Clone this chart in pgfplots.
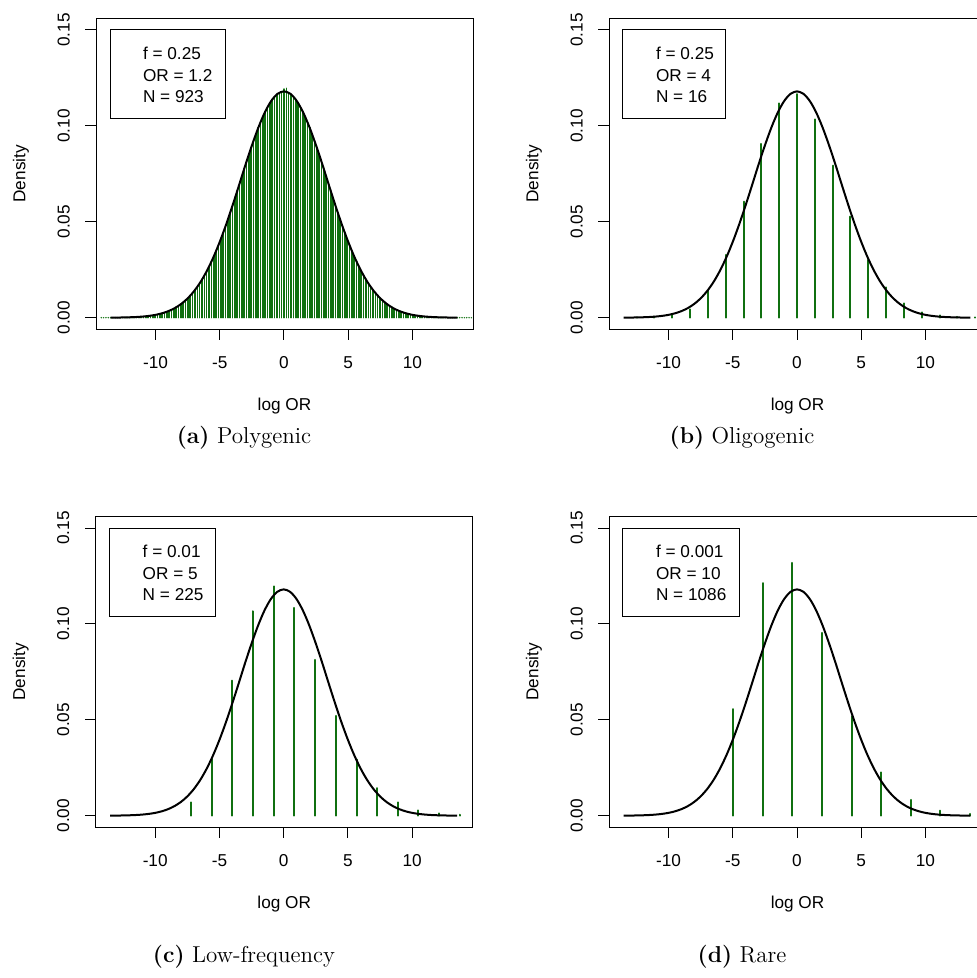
\documentclass[border=0pt]{standalone}
\usepackage{fontspec}
\usepackage{pgfplots}
\usepackage{pgfplotstable}
\pgfplotsset{compat=1.18}
\newfontfamily\rfont{Liberation Sans}
\definecolor{spike}{RGB}{16,112,16}

% fitted normal density, same in all four panels
\pgfplotstableread{
x y
-13.5 0.00004
-13.0 0.00007
-12.5 0.00013
-12.0 0.00022
-11.5 0.00036
-11.0 0.00059
-10.5 0.00095
-10.0 0.00148
-9.5 0.00227
-9.0 0.00341
-8.5 0.00500
-8.0 0.00717
-7.5 0.01006
-7.0 0.01383
-6.5 0.01857
-6.0 0.02443
-5.5 0.03142
-5.0 0.03953
-4.5 0.04864
-4.0 0.05858
-3.5 0.06903
-3.0 0.07967
-2.5 0.08977
-2.0 0.09904
-1.5 0.10693
-1.0 0.11295
-0.5 0.11672
0.0 0.11800
0.5 0.11672
1.0 0.11295
1.5 0.10693
2.0 0.09904
2.5 0.08977
3.0 0.07967
3.5 0.06903
4.0 0.05858
4.5 0.04864
5.0 0.03953
5.5 0.03142
6.0 0.02443
6.5 0.01857
7.0 0.01383
7.5 0.01006
8.0 0.00717
8.5 0.00500
9.0 0.00341
9.5 0.00227
10.0 0.00148
10.5 0.00095
11.0 0.00059
11.5 0.00036
12.0 0.00022
12.5 0.00013
13.0 0.00007
13.5 0.00004
}\curve

% (a) polygenic, OR = 1.2
\pgfplotstableread[row sep=\\]{
x y \\
-14.219 0 \\ -14.037 0 \\ -13.855 0 \\ -13.673 0 \\ -13.490 0 \\ -13.308 0 \\ -13.126 0 \\ -12.943 0 \\
-12.761 0.0001 \\ -12.579 0.0001 \\ -12.396 0.0001 \\ -12.214 0.0002 \\ -12.032 0.0002 \\ -11.850 0.0003 \\
-11.667 0.0003 \\ -11.485 0.0004 \\ -11.303 0.0004 \\ -11.120 0.0005 \\ -10.938 0.0006 \\ -10.756 0.0008 \\
-10.573 0.0009 \\ -10.391 0.0010 \\ -10.209 0.0012 \\ -10.027 0.0015 \\ -9.844 0.0017 \\ -9.662 0.0020 \\
-9.480 0.0023 \\ -9.297 0.0027 \\ -9.115 0.0031 \\ -8.933 0.0036 \\ -8.750 0.0041 \\ -8.568 0.0048 \\
-8.386 0.0054 \\ -8.204 0.0062 \\ -8.021 0.0071 \\ -7.839 0.0080 \\ -7.657 0.0091 \\ -7.474 0.0102 \\
-7.292 0.0115 \\ -7.110 0.0129 \\ -6.927 0.0145 \\ -6.745 0.0161 \\ -6.563 0.0179 \\ -6.381 0.0199 \\
-6.198 0.0220 \\ -6.016 0.0242 \\ -5.834 0.0266 \\ -5.651 0.0292 \\ -5.469 0.0319 \\ -5.287 0.0347 \\
-5.104 0.0377 \\ -4.922 0.0409 \\ -4.740 0.0442 \\ -4.558 0.0476 \\ -4.375 0.0511 \\ -4.193 0.0547 \\
-4.011 0.0584 \\ -3.828 0.0621 \\ -3.646 0.0660 \\ -3.464 0.0698 \\ -3.281 0.0737 \\ -3.099 0.0775 \\
-2.917 0.0813 \\ -2.735 0.0851 \\ -2.552 0.0887 \\ -2.370 0.0923 \\ -2.188 0.0957 \\ -2.005 0.0990 \\
-1.823 0.1020 \\ -1.641 0.1049 \\ -1.458 0.1075 \\ -1.276 0.1099 \\ -1.094 0.1120 \\ -0.912 0.1138 \\
-0.729 0.1153 \\ -0.547 0.1165 \\ -0.365 0.1173 \\ -0.182 0.1178 \\ 0.000 0.1192 \\ 0.182 0.1196 \\
0.365 0.1173 \\ 0.547 0.1165 \\ 0.729 0.1153 \\ 0.912 0.1138 \\ 1.094 0.1120 \\ 1.276 0.1099 \\
1.458 0.1075 \\ 1.641 0.1049 \\ 1.823 0.1020 \\ 2.005 0.0990 \\ 2.188 0.0957 \\ 2.370 0.0923 \\
2.552 0.0887 \\ 2.735 0.0851 \\ 2.917 0.0813 \\ 3.099 0.0775 \\ 3.281 0.0737 \\ 3.464 0.0698 \\
3.646 0.0660 \\ 3.828 0.0621 \\ 4.011 0.0584 \\ 4.193 0.0547 \\ 4.375 0.0511 \\ 4.558 0.0476 \\
4.740 0.0442 \\ 4.922 0.0409 \\ 5.104 0.0377 \\ 5.287 0.0347 \\ 5.469 0.0319 \\ 5.651 0.0292 \\
5.834 0.0266 \\ 6.016 0.0242 \\ 6.198 0.0220 \\ 6.381 0.0199 \\ 6.563 0.0179 \\ 6.745 0.0161 \\
6.927 0.0145 \\ 7.110 0.0129 \\ 7.292 0.0115 \\ 7.474 0.0102 \\ 7.657 0.0091 \\ 7.839 0.0080 \\
8.021 0.0071 \\ 8.204 0.0062 \\ 8.386 0.0054 \\ 8.568 0.0048 \\ 8.750 0.0041 \\ 8.933 0.0036 \\
9.115 0.0031 \\ 9.297 0.0027 \\ 9.480 0.0023 \\ 9.662 0.0020 \\ 9.844 0.0017 \\ 10.027 0.0015 \\
10.209 0.0012 \\ 10.391 0.0010 \\ 10.573 0.0009 \\ 10.756 0.0008 \\ 10.938 0.0006 \\ 11.120 0.0005 \\
11.303 0.0004 \\ 11.485 0.0004 \\ 11.667 0.0003 \\ 11.850 0.0003 \\ 12.032 0.0002 \\ 12.214 0.0002 \\
12.396 0.0001 \\ 12.579 0.0001 \\ 12.761 0.0001 \\ 12.943 0 \\ 13.126 0 \\ 13.308 0 \\ 13.490 0 \\
13.673 0 \\ 13.855 0 \\ 14.037 0 \\ 14.219 0 \\ 14.402 0 \\ 14.584 0 \\
}\polyg

% (b) oligogenic, OR = 4
\pgfplotstableread{
x y
-12.477 0.0002
-11.090 0.0005
-9.704 0.0014
-8.318 0.0043
-6.931 0.0141
-5.545 0.0327
-4.159 0.0605
-2.773 0.0906
-1.386 0.1118
0.000 0.1166
1.386 0.1034
2.773 0.0793
4.159 0.0527
5.545 0.0301
6.931 0.0158
8.318 0.0075
9.704 0.0028
11.090 0.0012
12.477 0.0004
13.863 0.0002
}\oligo

% (c) low-frequency, OR = 5
\pgfplotstableread{
x y
-7.21 0.0070
-5.60 0.0296
-3.99 0.0704
-2.38 0.1066
-0.77 0.1196
0.84 0.1083
2.45 0.0813
4.06 0.0521
5.67 0.0292
7.28 0.0144
8.88 0.0070
10.49 0.0028
12.10 0.0012
13.71 0.0005
}\lowfreq

% (d) rare, OR = 10
\pgfplotstableread{
x y
-4.970 0.0556
-2.667 0.1213
-0.364 0.1318
1.939 0.0953
4.242 0.0518
6.545 0.0226
8.848 0.0083
11.151 0.0026
13.454 0.0009
}\rare

\pgfplotsset{
  rpanel/.style={
    scale only axis, width=188.5pt, height=155.5pt, anchor=south west,
    xmin=-14.63, xmax=14.71, ymin=-0.00605, ymax=0.1561,
    clip=false,
    axis line style={black, line width=0.5pt},
    tick pos=left, tick align=outside, major tick length=5.3pt,
    tick style={black, line width=0.5pt},
    xtick={-10,-5,0,5,10}, xticklabels={,,,,},
    ytick={0,0.05,0.1,0.15}, yticklabels={0.00,0.05,0.10,0.15},
    ticklabel style={font=\rfont\fontsize{8.6}{10}\selectfont},
    yticklabel style={xshift=-10.9pt, rotate=90, anchor=center},
  },
  spikes/.style={ycomb, color=spike, line width=#1, line cap=round, mark=none},
  spikes/.default=1pt,
  dens/.style={black, line width=1pt, smooth, mark=none},
}
\tikzset{
  legtxt/.style={anchor=base west, inner sep=0pt, font=\rfont\fontsize{8.6}{10}\selectfont},
  lab/.style={inner sep=0pt, font=\rfont\fontsize{8.6}{10}\selectfont},
  subcap/.style={font=\fontsize{11.5}{14}\selectfont},
}

\begin{document}
\begin{tikzpicture}
\path[use as bounding box] (0,0) rectangle (488pt,-489pt);

\begin{axis}[rpanel, name=A, at={(48pt,-164.65pt)}]
\addplot[spikes=0.8pt] table {\polyg};
\addplot[dens] table {\curve};
\pgfplotsinvokeforeach{-10,-5,0,5,10}{\node[lab] at ([yshift=-16.75pt]axis cs:#1,-0.00605) {#1};}
\draw[black, line width=0.5pt] (axis cs:-13.54,0.15) rectangle (axis cs:-4.59,0.1041);
\node[legtxt] at (axis cs:-11,0.1347) {f = 0.25};
\node[legtxt] at (axis cs:-11,0.1234) {OR = 1.2};
\node[legtxt] at (axis cs:-11,0.1121) {N = 923};
\end{axis}
\node[lab, anchor=base] at ([yshift=-40.7pt]A.south) {log OR};
\node[lab, rotate=90, anchor=base] at ([xshift=-35.3pt]A.west) {Density};

\begin{axis}[rpanel, name=B, at={(304.5pt,-164.65pt)}]
\addplot[spikes] table {\oligo};
\addplot[dens] table {\curve};
\pgfplotsinvokeforeach{-10,-5,0,5,10}{\node[lab] at ([yshift=-16.75pt]axis cs:#1,-0.00605) {#1};}
\draw[black, line width=0.5pt] (axis cs:-13.56,0.15) rectangle (axis cs:-5.53,0.1041);
\node[legtxt] at (axis cs:-11,0.1347) {f = 0.25};
\node[legtxt] at (axis cs:-11,0.1234) {OR = 4};
\node[legtxt] at (axis cs:-11,0.1121) {N = 16};
\end{axis}
\node[lab, anchor=base] at ([yshift=-40.7pt]B.south) {log OR};
\node[lab, rotate=90, anchor=base] at ([xshift=-35.3pt]B.west) {Density};

\begin{axis}[rpanel, name=C, at={(47.85pt,-413.65pt)}]
\addplot[spikes] table {\lowfreq};
\addplot[dens] table {\curve};
\pgfplotsinvokeforeach{-10,-5,0,5,10}{\node[lab] at ([yshift=-16.75pt]axis cs:#1,-0.00605) {#1};}
\draw[black, line width=0.5pt] (axis cs:-13.54,0.15) rectangle (axis cs:-5.29,0.1041);
\node[legtxt] at (axis cs:-11,0.1347) {f = 0.01};
\node[legtxt] at (axis cs:-11,0.1234) {OR = 5};
\node[legtxt] at (axis cs:-11,0.1121) {N = 225};
\end{axis}
\node[lab, anchor=base] at ([yshift=-40.7pt]C.south) {log OR};
\node[lab, rotate=90, anchor=base] at ([xshift=-35.3pt]C.west) {Density};

\begin{axis}[rpanel, name=D, at={(304.5pt,-413.65pt)}]
\addplot[spikes] table {\rare};
\addplot[dens] table {\curve};
\pgfplotsinvokeforeach{-10,-5,0,5,10}{\node[lab] at ([yshift=-16.75pt]axis cs:#1,-0.00605) {#1};}
\draw[black, line width=0.5pt] (axis cs:-13.56,0.15) rectangle (axis cs:-4.49,0.1041);
\node[legtxt] at (axis cs:-11,0.1347) {f = 0.001};
\node[legtxt] at (axis cs:-11,0.1234) {OR = 10};
\node[legtxt] at (axis cs:-11,0.1121) {N = 1086};
\end{axis}
\node[lab, anchor=base] at ([yshift=-40.7pt]D.south) {log OR};
\node[lab, rotate=90, anchor=base] at ([xshift=-35.3pt]D.west) {Density};

% sub-figure captions
\node[subcap] at (122pt,-219pt) {\textbf{(a)} Polygenic};
\node[subcap] at (371pt,-219pt) {\textbf{(b)} Oligogenic};
\node[subcap] at (122pt,-478.5pt) {\textbf{(c)} Low-frequency};
\node[subcap] at (371pt,-478.5pt) {\textbf{(d)} Rare};
\end{tikzpicture}
\end{document}
